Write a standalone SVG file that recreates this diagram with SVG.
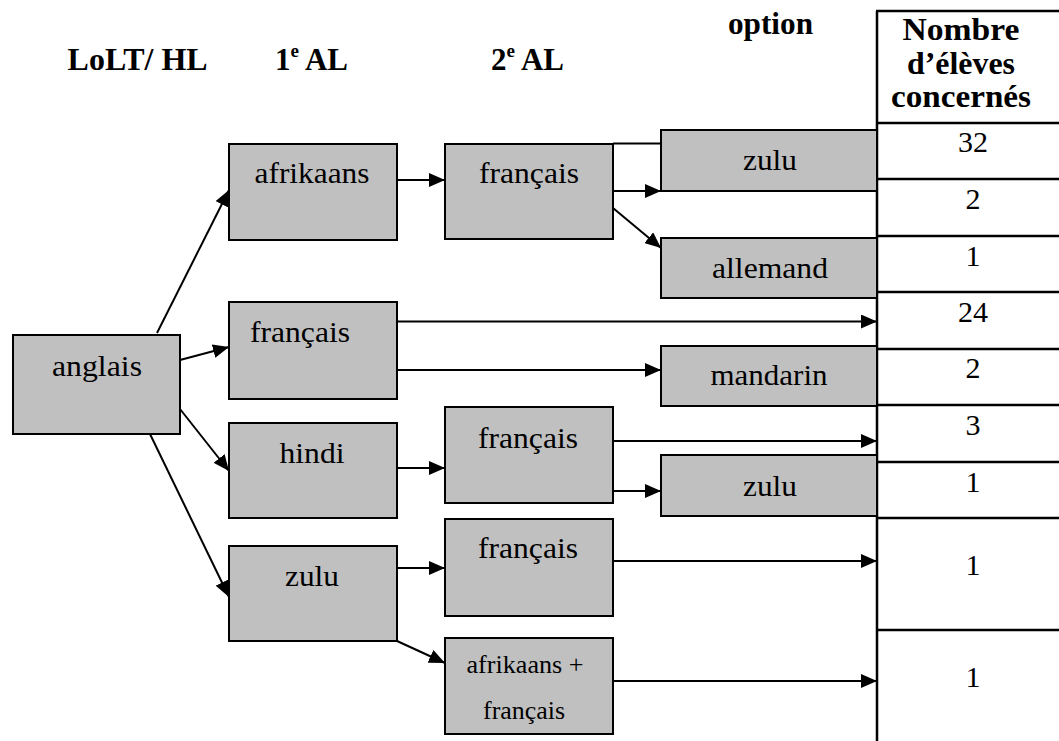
<svg xmlns="http://www.w3.org/2000/svg" width="1059" height="741" viewBox="0 0 1059 741">
<style>
.box{fill:#c0c0c0;stroke:#000;stroke-width:2}
text{font-family:"Liberation Serif","Times New Roman",serif;font-size:30px;fill:#000}
.m{text-anchor:middle}
.h{font-weight:bold;font-size:31px}
.th{font-weight:bold;font-size:31px;text-anchor:middle}
.n{font-size:30px;text-anchor:middle}
.s{font-size:25px;text-anchor:middle}
.con line{stroke:#000;stroke-width:2;fill:none}
.tbl line{stroke:#000;stroke-width:2.5}
</style>
<defs>
<marker id="ah" markerUnits="userSpaceOnUse" markerWidth="16" markerHeight="14" refX="16" refY="7" orient="auto">
<path d="M0,0 L16,7 L0,14 z" fill="#000"/>
</marker>
</defs>

<g id="headers">
<text class="h" x="67.6" y="70" textLength="140" lengthAdjust="spacingAndGlyphs">LoLT/ HL</text>
<text class="h" x="275" y="70">1<tspan font-size="19" dy="-13">e</tspan><tspan dy="13"> AL</tspan></text>
<text class="h" x="491" y="70">2<tspan font-size="19" dy="-13">e</tspan><tspan dy="13"> AL</tspan></text>
<text class="h" x="728" y="34" textLength="85" lengthAdjust="spacingAndGlyphs">option</text>
</g>

<g id="table" class="tbl">
<line x1="877" y1="11" x2="877" y2="741"/>
<line x1="876" y1="11" x2="1059" y2="11"/>
<line x1="877" y1="123" x2="1059" y2="123"/>
<line x1="877" y1="179" x2="1059" y2="179"/>
<line x1="877" y1="236" x2="1059" y2="236"/>
<line x1="877" y1="292" x2="1059" y2="292"/>
<line x1="877" y1="349" x2="1059" y2="349"/>
<line x1="877" y1="405" x2="1059" y2="405"/>
<line x1="877" y1="462" x2="1059" y2="462"/>
<line x1="877" y1="518" x2="1059" y2="518"/>
<line x1="877" y1="630" x2="1059" y2="630"/>
<text class="th" x="961" y="40" textLength="117" lengthAdjust="spacingAndGlyphs">Nombre</text>
<text class="th" x="961" y="73.5" textLength="108" lengthAdjust="spacingAndGlyphs">d’élèves</text>
<text class="th" x="961" y="107" textLength="140" lengthAdjust="spacingAndGlyphs">concernés</text>
<text class="n" x="973" y="152" textLength="30" lengthAdjust="spacingAndGlyphs">32</text>
<text class="n" x="973" y="209">2</text>
<text class="n" x="973" y="266">1</text>
<text class="n" x="973" y="322" textLength="30" lengthAdjust="spacingAndGlyphs">24</text>
<text class="n" x="973" y="378">2</text>
<text class="n" x="973" y="435">3</text>
<text class="n" x="973" y="492">1</text>
<text class="n" x="973" y="575">1</text>
<text class="n" x="973" y="687">1</text>
</g>

<g id="connectors" class="con">
<line x1="157" y1="333" x2="229" y2="190" marker-end="url(#ah)"/>
<line x1="180" y1="360" x2="229" y2="347" marker-end="url(#ah)"/>
<line x1="180" y1="409" x2="229" y2="471" marker-end="url(#ah)"/>
<line x1="150" y1="434" x2="229" y2="597" marker-end="url(#ah)"/>
<line x1="397" y1="180" x2="445" y2="180" marker-end="url(#ah)"/>
<line x1="613" y1="143.5" x2="661" y2="143.5"/>
<line x1="613" y1="191" x2="661" y2="191" marker-end="url(#ah)"/>
<line x1="613" y1="208" x2="661" y2="248" marker-end="url(#ah)"/>
<line x1="397" y1="321.5" x2="877" y2="321.5" marker-end="url(#ah)"/>
<line x1="397" y1="370" x2="661" y2="370" marker-end="url(#ah)"/>
<line x1="397" y1="468" x2="445" y2="468" marker-end="url(#ah)"/>
<line x1="613" y1="441" x2="877" y2="441" marker-end="url(#ah)"/>
<line x1="613" y1="491" x2="661" y2="491" marker-end="url(#ah)"/>
<line x1="397" y1="568" x2="445" y2="568" marker-end="url(#ah)"/>
<line x1="613" y1="561" x2="877" y2="561" marker-end="url(#ah)"/>
<line x1="397" y1="641" x2="445" y2="663" marker-end="url(#ah)"/>
<line x1="613" y1="681" x2="877" y2="681" marker-end="url(#ah)"/>
</g>

<g id="n-anglais">
<rect class="box" x="13" y="335" width="167" height="99"/>
<text class="m" x="97" y="376" textLength="90" lengthAdjust="spacingAndGlyphs">anglais</text>
</g>
<g id="n-afrikaans">
<rect class="box" x="229" y="144" width="168" height="96"/>
<text class="m" x="312" y="183" textLength="115" lengthAdjust="spacingAndGlyphs">afrikaans</text>
</g>
<g id="n-francais1">
<rect class="box" x="229" y="302" width="168" height="97"/>
<text x="250" y="342" textLength="100" lengthAdjust="spacingAndGlyphs">français</text>
</g>
<g id="n-hindi">
<rect class="box" x="229" y="423" width="168" height="95"/>
<text class="m" x="312" y="463" textLength="65" lengthAdjust="spacingAndGlyphs">hindi</text>
</g>
<g id="n-zulu1">
<rect class="box" x="229" y="546" width="168" height="95"/>
<text class="m" x="312" y="586" textLength="54" lengthAdjust="spacingAndGlyphs">zulu</text>
</g>
<g id="n-francais2">
<rect class="box" x="445" y="144" width="168" height="95"/>
<text class="m" x="529" y="183" textLength="100" lengthAdjust="spacingAndGlyphs">français</text>
</g>
<g id="n-francais3">
<rect class="box" x="445" y="407" width="168" height="96"/>
<text class="m" x="528" y="448" textLength="100" lengthAdjust="spacingAndGlyphs">français</text>
</g>
<g id="n-francais4">
<rect class="box" x="445" y="519" width="168" height="97"/>
<text class="m" x="528" y="558" textLength="100" lengthAdjust="spacingAndGlyphs">français</text>
</g>
<g id="n-afr-fr">
<rect class="box" x="445" y="638" width="168" height="96"/>
<text class="s" x="525" y="673" textLength="117" lengthAdjust="spacingAndGlyphs">afrikaans +</text>
<text class="s" x="524" y="719" textLength="82" lengthAdjust="spacingAndGlyphs">français</text>
</g>
<g id="n-zulu-opt1">
<rect class="box" x="661" y="130" width="216" height="61"/>
<text class="m" x="770" y="170" textLength="54" lengthAdjust="spacingAndGlyphs">zulu</text>
</g>
<g id="n-allemand">
<rect class="box" x="661" y="238" width="216" height="60"/>
<text class="m" x="770" y="278" textLength="116" lengthAdjust="spacingAndGlyphs">allemand</text>
</g>
<g id="n-mandarin">
<rect class="box" x="661" y="346" width="216" height="60"/>
<text class="m" x="769" y="385" textLength="117" lengthAdjust="spacingAndGlyphs">mandarin</text>
</g>
<g id="n-zulu-opt2">
<rect class="box" x="661" y="455" width="216" height="61"/>
<text class="m" x="770" y="496" textLength="54" lengthAdjust="spacingAndGlyphs">zulu</text>
</g>
</svg>
